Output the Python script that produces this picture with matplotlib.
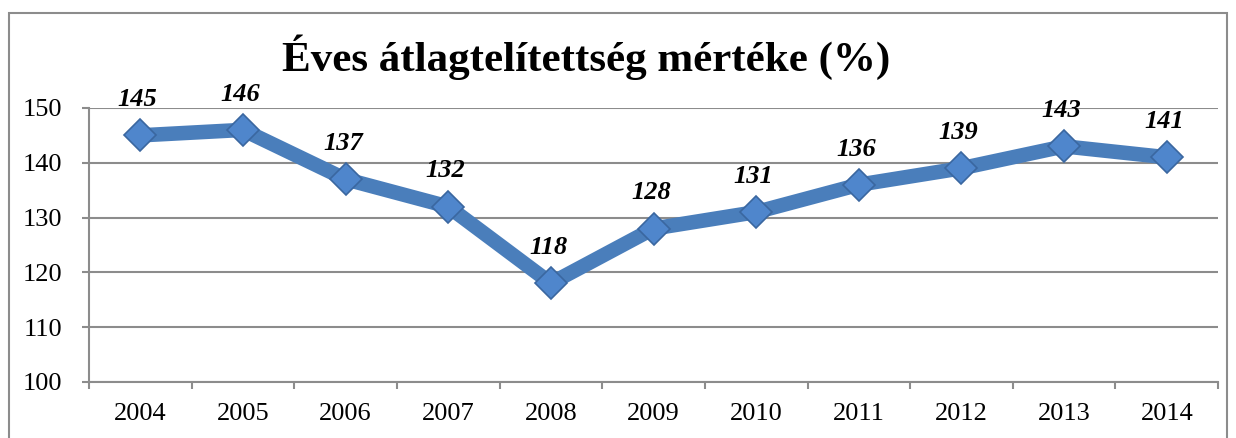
import matplotlib.pyplot as plt
from matplotlib.patches import Rectangle

# dati
years = ['2004', '2005', '2006', '2007', '2008', '2009', '2010', '2011', '2012', '2013', '2014']
values = [145, 146, 137, 132, 118, 128, 131, 136, 139, 143, 141]
yticks = [100, 110, 120, 130, 140, 150]

plt.rcParams['font.family'] = ['Liberation Serif', 'DejaVu Serif']

fig = plt.figure(figsize=(12.36, 4.38), dpi=100)
ax = fig.add_axes([0.072, 0.128, 0.9135, 0.6255])

# cornice esterna
fig.patches.append(Rectangle((9 / 1236, -0.05), 1218 / 1236, 1 - 13 / 438 + 0.05,
                             transform=fig.transFigure, fill=False,
                             edgecolor='#8c8c8c', linewidth=1.5, clip_on=False))

x = list(range(len(years)))
ax.plot(x, values, color='#4a7ebb', linewidth=10.5, solid_joinstyle='miter', zorder=3)
ax.plot(x, values, linestyle='none', marker='D', markersize=16,
        markerfacecolor='#4f86cc', markeredgecolor='#3a67a0', markeredgewidth=1.2, zorder=4)

for xi, v in zip(x, values):
    ax.annotate(str(v), (xi, v), xytext=(-2, 21), textcoords='offset points',
                ha='center', va='baseline', fontsize=19, fontweight='bold', fontstyle='italic')

ax.set_xlim(-0.5, len(years) - 0.5)
ax.set_ylim(100, 150)
ax.set_yticks(yticks)
ax.set_xticks(x)
ax.set_xticklabels(years)
ax.set_xticks([i - 0.5 for i in range(len(years) + 1)], minor=True)
ax.tick_params(axis='x', which='major', length=0, labelsize=19, pad=15)
ax.tick_params(axis='x', which='minor', length=5, width=1.5, color='#8c8c8c')
ax.tick_params(axis='y', length=5, width=1.5, color='#8c8c8c', labelsize=19, pad=14)

ax.grid(axis='y', color='#8c8c8c', linewidth=1.5)
ax.set_axisbelow(True)
for s in ['top', 'right']:
    ax.spines[s].set_visible(False)
for s in ['left', 'bottom']:
    ax.spines[s].set_color('#8c8c8c')
    ax.spines[s].set_linewidth(1.5)

fig.text(0.474, 1 - 57 / 438, 'Éves átlagtelítettség mértéke (%)', ha='center', va='center',
         fontsize=31, fontweight='bold')

fig.savefig('out.png', dpi=100)
